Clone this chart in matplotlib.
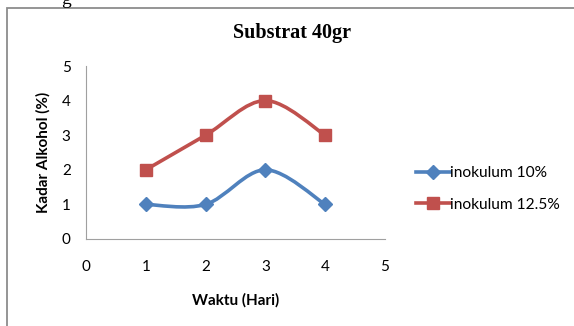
import numpy as np, matplotlib
matplotlib.use("Agg"); import matplotlib.pyplot as plt
from matplotlib.path import Path
from matplotlib.patches import PathPatch, Rectangle

hari = [1, 2, 3, 4]
inok10 = [1, 1, 2, 1]
inok125 = [2, 3, 4, 3]
ticks = [0, 1, 2, 3, 4, 5]
blue = "#4F81BD"; red = "#C0504D"

def smooth_path(x, y, k=1/6):
    # excel-like smoothed line: cubic bezier through the points
    x = np.asarray(x, float); y = np.asarray(y, float)
    verts = [(x[0], y[0])]; codes = [Path.MOVETO]
    n = len(x)
    for i in range(n - 1):
        p0 = i - 1 if i > 0 else i
        p3 = i + 2 if i + 2 < n else i + 1
        c1 = (x[i] + (x[i+1] - x[p0]) * k, y[i] + (y[i+1] - y[p0]) * k)
        c2 = (x[i+1] - (x[p3] - x[i]) * k, y[i+1] - (y[p3] - y[i]) * k)
        verts += [c1, c2, (x[i+1], y[i+1])]; codes += [Path.CURVE4] * 3
    return Path(verts, codes)

plt.rcParams['font.family'] = ['Lato', 'DejaVu Sans']
fig = plt.figure(figsize=(5.74, 3.26), dpi=100)
fig.patches.append(Rectangle((7/574, -0.1), 1.2, 1 - 8/326 + 0.1, transform=fig.transFigure,
                             fill=False, ec="#8c8c8c", lw=1.3, zorder=0))
fig.text(66/574, 1 + 1/326, "g", ha="center", va="center", fontsize=14, family="Liberation Serif")

ax = fig.add_axes([86/574, 1 - 239/326, 299/574, 173/326])
for xs, ys, c, m, ms, lab in [(hari, inok10, blue, "D", 7.5, "inokulum 10%"),
                              (hari, inok125, red, "s", 8.5, "inokulum 12.5%")]:
    ax.add_patch(PathPatch(smooth_path(xs, ys), fill=False, ec=c, lw=2.6, capstyle="round"))
    ax.plot(xs, ys, ls="none", marker=m, ms=ms, color=c)
    ax.plot([], [], color=c, lw=2.6, marker=m, ms=ms, label=lab)

ax.set_xlim(0, 5); ax.set_ylim(0, 5)
ax.set_xticks(ticks); ax.set_yticks(ticks)
ax.tick_params(length=0, labelsize=11, pad=11)
ax.tick_params(axis="x", pad=15)
for s in ["top", "right"]: ax.spines[s].set_visible(False)
for s in ["left", "bottom"]: ax.spines[s].set_color("#a0a0a0")
ax.set_xlabel("Waktu (Hari)", fontsize=11, fontweight="bold", labelpad=14)
ax.set_ylabel("Kadar Alkohol (%)", fontsize=11, fontweight="bold", labelpad=8)
fig.text(292/574, 1 - 33/326, "Substrat 40gr", ha="center", va="center", fontsize=14.5,
         fontweight="bold", family="Liberation Serif")
ax.legend(loc="center left", bbox_to_anchor=(402/574, 1 - 189/326), bbox_transform=fig.transFigure,
          frameon=False, fontsize=11.2, handlelength=2.2, handletextpad=0.0, labelspacing=1.15)
fig.savefig("out.png", dpi=100)
